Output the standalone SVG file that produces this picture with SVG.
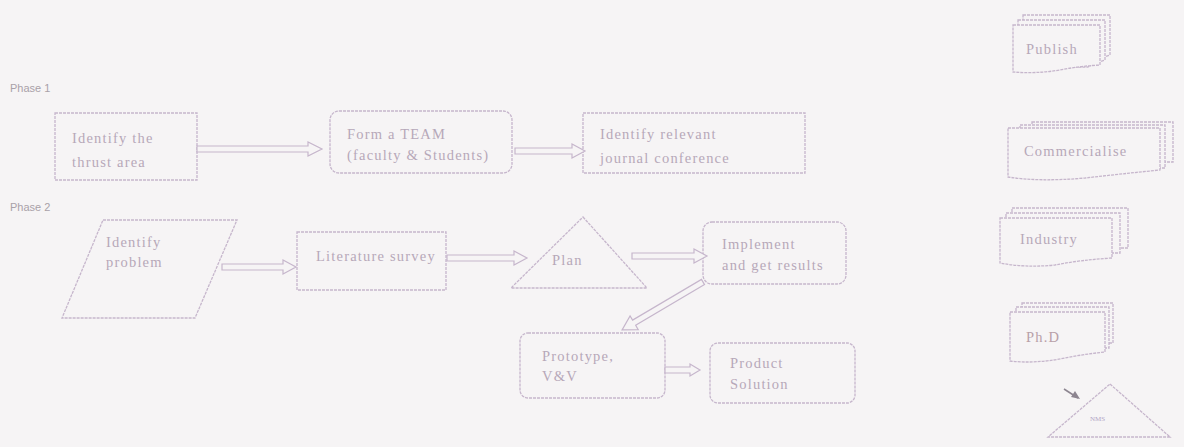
<svg xmlns="http://www.w3.org/2000/svg" width="1184" height="447" viewBox="0 0 1184 447">
<style>
.bg{fill:#f6f4f5}
.sh{fill:#f6f4f5;stroke:#c6b6cc;stroke-width:1.3;stroke-dasharray:3 1}
.ar{fill:#f6f4f5;stroke:#c6b6cc;stroke-width:1.2}
.t{font-family:"Liberation Serif",serif;font-size:14.5px;letter-spacing:1.2px;fill:#b7a8b9}
.ph{font-family:"Liberation Sans",sans-serif;font-size:11px;fill:#a9a1a8}
.tiny{font-family:"Liberation Serif",serif;font-size:7px;fill:#b3a4c5}
</style>
<rect class="bg" x="0" y="0" width="1184" height="447"/>
<text class="ph" x="10" y="92">Phase 1</text>
<text class="ph" x="10" y="211">Phase 2</text>

<g id="n1"><rect class="sh" x="55" y="113" width="142" height="67"/>
<text class="t" x="72" y="143">Identify the</text><text class="t" x="72" y="167">thrust area</text></g>
<g id="n2"><rect class="sh" x="330" y="111" width="182" height="62" rx="9"/>
<text class="t" x="347" y="139">Form a TEAM</text><text class="t" x="347" y="160">(faculty &amp; Students)</text></g>
<g id="n3"><rect class="sh" x="583" y="113" width="222" height="60"/>
<text class="t" x="600" y="139">Identify relevant</text><text class="t" x="600" y="163">journal conference</text></g>

<g id="n4"><polygon class="sh" points="103,220 237,220 195,318 62,318"/>
<text class="t" x="106" y="247">Identify</text><text class="t" x="106" y="267">problem</text></g>
<g id="n5"><rect class="sh" x="297" y="232" width="149" height="58"/>
<text class="t" x="316" y="261">Literature survey</text></g>
<g id="n6"><polygon class="sh" points="583,217 647,288 511,288"/>
<text class="t" x="552" y="265">Plan</text></g>
<g id="n7"><rect class="sh" x="703" y="222" width="143" height="62" rx="9"/>
<text class="t" x="722" y="249">Implement</text><text class="t" x="722" y="270">and get results</text></g>
<g id="n8"><rect class="sh" x="520" y="333" width="145" height="65" rx="8"/>
<text class="t" x="542" y="361">Prototype,</text><text class="t" x="542" y="381">V&amp;V</text></g>
<g id="n9"><rect class="sh" x="710" y="343" width="145" height="60" rx="8"/>
<text class="t" x="730" y="368">Product</text><text class="t" x="730" y="389">Solution</text></g>

<g id="n10">
<path class="sh" d="M1023,15 H1110 V55 Q1100,58 1093,62 L1023,62 Z"/>
<path class="sh" d="M1018,20 H1105 V60 Q1095,63 1088,67 L1018,67 Z"/>
<path class="sh" d="M1013,25 H1100 V65 Q1080,66 1060,70 Q1035,74 1013,72 Z"/>
<text class="t" x="1026" y="54">Publish</text></g>
<g id="n11">
<path class="sh" d="M1032,122 H1173 V162 L1032,162 Z"/>
<path class="sh" d="M1020,125 H1165 V168 L1020,168 Z"/>
<path class="sh" d="M1008,128 H1160 V170 Q1120,174 1085,178 Q1040,182 1008,177 Z"/>
<text class="t" x="1024" y="156">Commercialise</text></g>
<g id="n12">
<path class="sh" d="M1012,208 H1128 V248 L1012,248 Z"/>
<path class="sh" d="M1006,213 H1120 V253 L1006,253 Z"/>
<path class="sh" d="M1000,218 H1112 V258 Q1080,260 1055,265 Q1025,268 1000,263 Z"/>
<text class="t" x="1020" y="244">Industry</text></g>
<g id="n13">
<path class="sh" d="M1022,303 H1113 V343 L1022,343 Z"/>
<path class="sh" d="M1016,307 H1109 V348 L1016,348 Z"/>
<path class="sh" d="M1010,312 H1105 V352 Q1085,354 1065,358 Q1035,364 1010,361 Z"/>
<text class="t" x="1026" y="342" style="fill:#b8a0a8">Ph.D</text></g>
<g id="n14"><polygon class="sh" points="1110,384 1170,437 1048,437"/>
<text class="tiny" x="1090" y="421">NMS</text></g>

<g id="connectors">
<polygon class="ar" points="197,146 308,146 308,142 322,149 308,156 308,152 197,152"/>
<polygon class="ar" points="515,148 572,148 572,144 585,151 572,158 572,154 515,154"/>
<polygon class="ar" points="222,264 283,264 283,260 296,267 283,274 283,270 222,270"/>
<polygon class="ar" points="447,255 514,255 514,251 527,258 514,265 514,261 447,261"/>
<polygon class="ar" points="632,253 694,253 694,249 707,256 694,263 694,259 632,259"/>
<polygon class="ar" points="665,367 690,367 690,364 700,370 690,376 690,373 665,373"/>
<polygon class="ar" transform="translate(703,282) rotate(149.4)" points="0,-3 80,-3 80,-8 94,0 80,8 80,3 0,3"/>
<path d="M1064,389 L1078,398" stroke="#8d8590" stroke-width="1.5" fill="none"/>
<polygon points="1080,399 1071,397 1075,391" fill="#8d8590"/>
</g>
</svg>
